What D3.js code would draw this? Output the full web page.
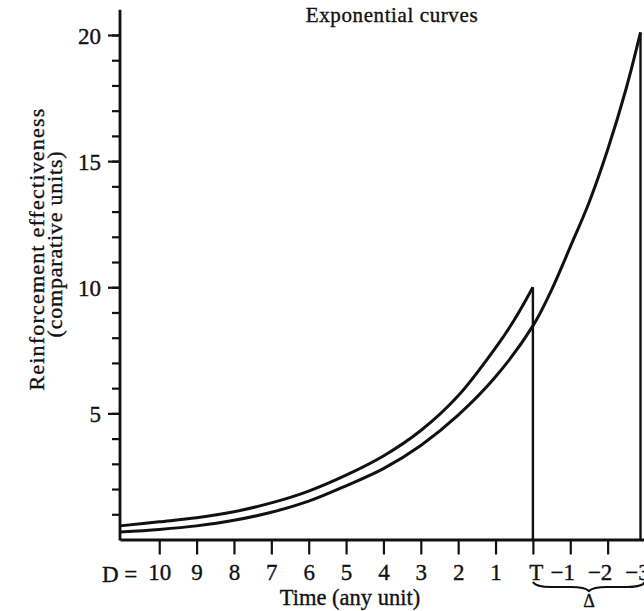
<!DOCTYPE html>
<html>
<head>
<meta charset="utf-8">
<script src="https://cdn.jsdelivr.net/npm/d3@7"></script>
<style>
  body { margin: 0; background: #fff; }
  svg { display: block; }
  text { font-family: "Liberation Serif", "Times New Roman", serif; fill: #111; stroke: #111; stroke-width: 0.35px; }
</style>
</head>
<body>
<svg id="chart"></svg>
<script>
// time axis: 0 = T, negative = D steps before T, positive = steps after T
const xTicks = [-10, -9, -8, -7, -6, -5, -4, -3, -2, -1, 0, 1, 2, 3];
const xTickLabels = ["10", "9", "8", "7", "6", "5", "4", "3", "2", "1", "T", "\u22121", "\u22122", "\u22123"];
const yMajor = [5, 10, 15, 20];
const yMinor = d3.range(1, 21);

// curve peaking at T (reward 10)
const shortTimes = [-11.05, -10, -9, -8, -7, -6, -5, -4, -3, -2, -1, -0.5, 0];
const shortValues = [0.54, 0.70, 0.86, 1.10, 1.45, 1.92, 2.55, 3.31, 4.32, 5.70, 7.60, 8.70, 10.0];
// curve peaking after the delay (reward 20)
const longTimes = [-11.05, -10, -9, -8, -7, -6, -5, -4, -3, -2, -1, 0, 0.5, 1, 1.5, 2, 2.5, 2.88];
const longValues = [0.30, 0.40, 0.54, 0.76, 1.08, 1.52, 2.13, 2.81, 3.73, 4.93, 6.45, 8.47, 9.90, 11.6, 13.35, 15.45, 17.9, 20.1];

const W = 644, H = 611;
const svg = d3.select("#chart").attr("width", W).attr("height", H);

const x = d3.scaleLinear().domain([-11.05, 3]).range([120, 645]);
const y = d3.scaleLinear().domain([0, 20]).range([539.5, 35]);

const ink = "#111";

// y axis: minor + major ticks
svg.append("g")
  .attr("transform", `translate(${x(-11.05)},0)`)
  .call(d3.axisLeft(y).tickValues(yMinor).tickSize(8).tickFormat(""))
  .call(g => g.select(".domain").remove())
  .call(g => g.selectAll("line").attr("stroke", ink).attr("stroke-width", 2.2));

svg.append("g")
  .attr("transform", `translate(${x(-11.05)},0)`)
  .call(d3.axisLeft(y).tickValues(yMajor).tickSize(12).tickPadding(7).tickFormat(d3.format("d")))
  .call(g => g.select(".domain").remove())
  .call(g => g.selectAll("line").attr("stroke", ink).attr("stroke-width", 2.2))
  .call(g => g.selectAll("text").attr("font-size", 23).attr("font-family", "Liberation Serif")
    .attr("fill", ink).attr("dy", "0.36em"));

svg.append("line")
  .attr("x1", x(-11.05)).attr("x2", x(-11.05))
  .attr("y1", y(0) + 1).attr("y2", y(21))
  .attr("stroke", ink).attr("stroke-width", 2.8);

// x axis
svg.append("g")
  .attr("transform", `translate(0,${y(0)})`)
  .call(d3.axisBottom(x).tickValues(xTicks).tickSize(15).tickSizeOuter(0).tickPadding(9)
    .tickFormat((d, i) => xTickLabels[i]))
  .call(g => g.select(".domain").attr("stroke", ink).attr("stroke-width", 2.8))
  .call(g => g.selectAll("line").attr("stroke", ink).attr("stroke-width", 2.2))
  .call(g => g.selectAll("text").attr("font-size", 23).attr("font-family", "Liberation Serif").attr("fill", ink)
    .attr("dx", d => d > 0 ? -8 : (d === 0 ? 3 : 0)));

svg.append("text")
  .attr("x", x(-10) - 22).attr("y", 582)
  .attr("text-anchor", "end").attr("font-size", 23)
  .text("D =");

// curves
const line = d3.line()
  .x(d => x(d[0]))
  .y(d => y(d[1]))
  .curve(d3.curveCatmullRom.alpha(0.5));

svg.append("path")
  .datum(d3.zip(shortTimes, shortValues))
  .attr("d", line)
  .attr("fill", "none").attr("stroke", ink).attr("stroke-width", 3);

svg.append("path")
  .datum(d3.zip(longTimes, longValues))
  .attr("d", line)
  .attr("fill", "none").attr("stroke", ink).attr("stroke-width", 3);

// drops at the reward points
[[shortTimes, shortValues], [longTimes, longValues]].forEach(([t, v]) => {
  const tp = t[t.length - 1], vp = v[v.length - 1];
  svg.append("line")
    .attr("x1", x(tp)).attr("x2", x(tp))
    .attr("y1", y(vp)).attr("y2", y(0))
    .attr("stroke", ink).attr("stroke-width", 2.4);
});

// delay brace under T .. -3
const bx0 = x(0), bx1 = x(3), bm = (bx0 + bx1) / 2, by = 587;
svg.append("path")
  .attr("d", `M${bx0},${by - 5} Q${bx0 + 3},${by} ${bx0 + 18},${by}
              L${bm - 18},${by} Q${bm - 4},${by} ${bm},${by + 4}
              Q${bm + 4},${by} ${bm + 18},${by}
              L${bx1 - 18},${by} Q${bx1 - 3},${by} ${bx1},${by - 5}`)
  .attr("fill", "none").attr("stroke", ink).attr("stroke-width", 2.2);

svg.append("text")
  .attr("x", bm).attr("y", 607)
  .attr("text-anchor", "middle").attr("font-size", 18)
  .text("\u0394");

// titles
svg.append("text")
  .attr("x", 392).attr("y", 22)
  .attr("text-anchor", "middle").attr("font-size", 21).attr("letter-spacing", 0.6)
  .text("Exponential curves");

svg.append("text")
  .attr("x", 350).attr("y", 605)
  .attr("text-anchor", "middle").attr("font-size", 22.5)
  .text("Time (any unit)");

svg.append("text")
  .attr("transform", "translate(44,249) rotate(-90)")
  .attr("text-anchor", "middle").attr("font-size", 22).attr("letter-spacing", 1.2)
  .text("Reinforcement effectiveness");

svg.append("text")
  .attr("transform", "translate(62,244) rotate(-90)")
  .attr("text-anchor", "middle").attr("font-size", 22).attr("letter-spacing", 0.8)
  .text("(comparative units)");
</script>
</body>
</html>
